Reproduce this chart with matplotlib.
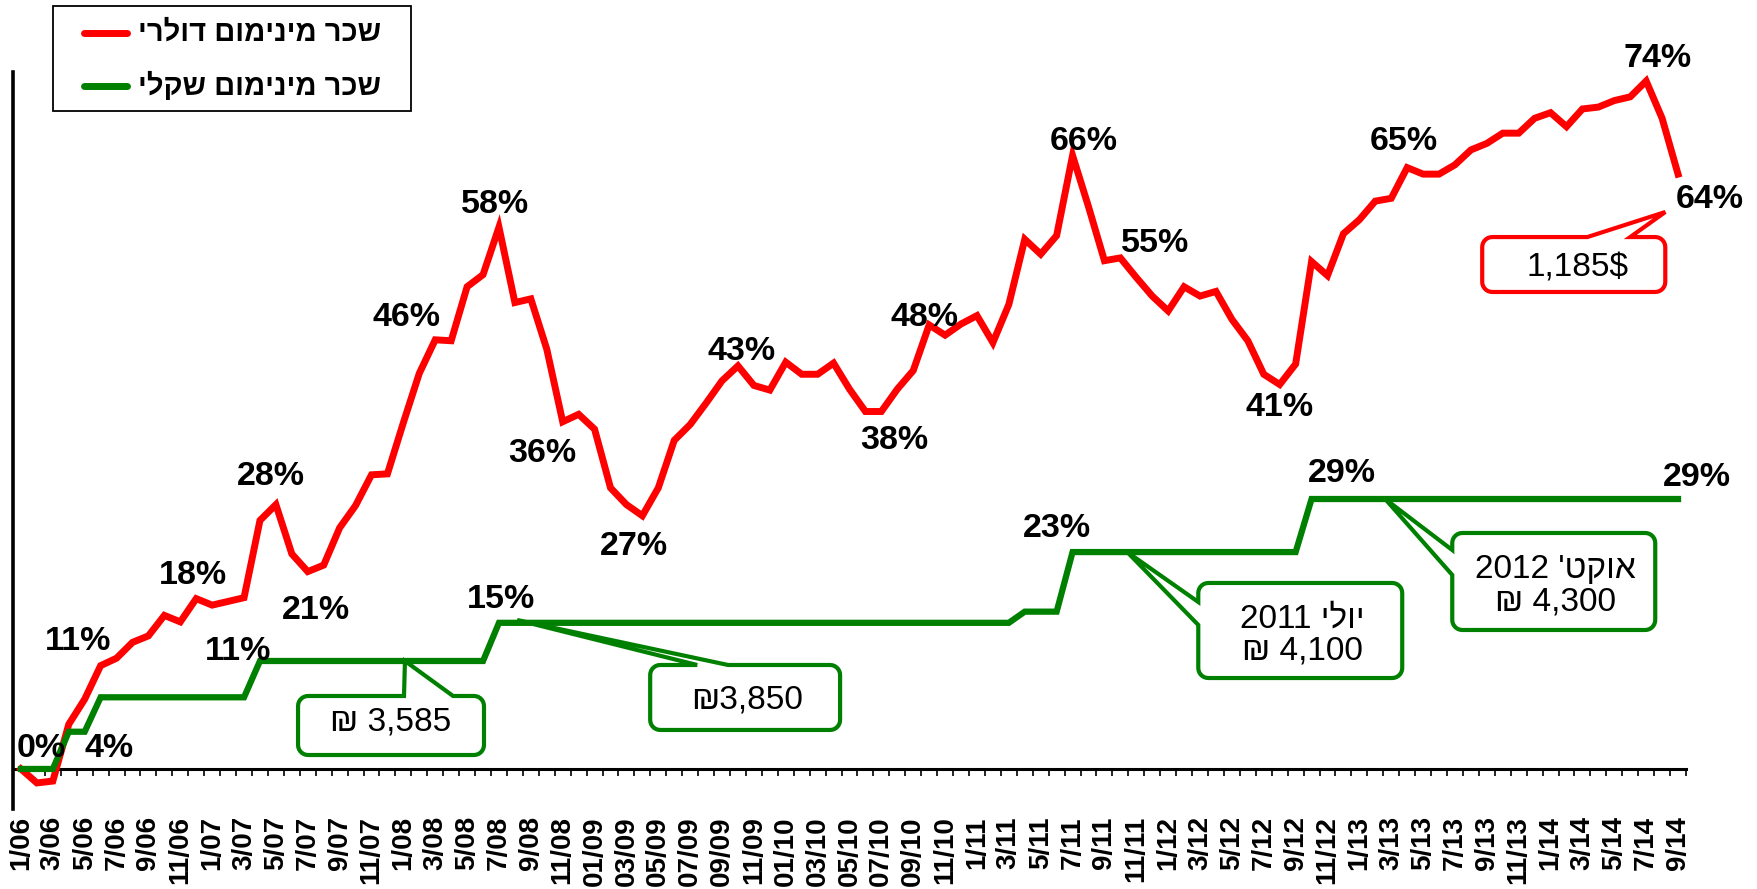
import numpy as np
import matplotlib
matplotlib.use("Agg")
import matplotlib.pyplot as plt
from matplotlib.patches import Polygon, Rectangle
from matplotlib.lines import Line2D

plt.rcParams['font.family'] = ['Liberation Sans', 'DejaVu Sans']

# month labels (every second month, 1/06 .. 9/14)
tick_labels = [
    "1/06", "3/06", "5/06", "7/06", "9/06", "11/06",
    "1/07", "3/07", "5/07", "7/07", "9/07", "11/07",
    "1/08", "3/08", "5/08", "7/08", "9/08", "11/08",
    "01/09", "03/09", "05/09", "07/09", "09/09", "11/09",
    "01/10", "03/10", "05/10", "07/10", "09/10", "11/10",
    "1/11", "3/11", "5/11", "7/11", "9/11", "11/11",
    "1/12", "3/12", "5/12", "7/12", "9/12", "11/12",
    "1/13", "3/13", "5/13", "7/13", "9/13", "11/13",
    "1/14", "3/14", "5/14", "7/14", "9/14",
]

# change vs 1/2006, percent (monthly)
dollar_wage = [
    0.0, -1.5, -1.3, 4.8, 7.5, 11.1, 11.9, 13.6, 14.3, 16.5, 15.8, 18.3,
    17.6, 18.0, 18.4, 26.7, 28.4, 23.1, 21.2, 21.9, 25.9, 28.3, 31.6, 31.7,
    37.2, 42.5, 46.1, 46.0, 51.8, 53.1, 58.2, 50.1, 50.5, 45.1, 37.3, 38.1,
    36.5, 30.2, 28.4, 27.2, 30.2, 35.3, 37.0, 39.3, 41.7, 43.3, 41.2, 40.7,
    43.7, 42.4, 42.4, 43.6, 40.8, 38.4, 38.4, 40.8, 42.8, 47.7, 46.6, 47.8,
    48.7, 45.8, 49.9, 56.9, 55.3, 57.3, 65.9, 60.4, 54.6, 54.9, 52.8, 50.8,
    49.2, 51.8, 50.8, 51.3, 48.3, 46.0, 42.4, 41.3, 43.5, 54.5, 53.0, 57.5,
    59.0, 61.0, 61.3, 64.6, 63.9, 63.9, 64.9, 66.5, 67.2, 68.3, 68.3, 69.9,
    70.5, 69.0, 70.9, 71.1, 71.8, 72.2, 73.9, 69.9, 63.9,
]
shekel_wage = [
    0.0, 0.0, 0.0, 4.0, 4.0, 7.7, 7.7, 7.7, 7.7, 7.7, 7.7, 7.7,
    7.7, 7.7, 7.7, 11.6, 11.6, 11.6, 11.6, 11.6, 11.6, 11.6, 11.6, 11.6,
    11.6, 11.6, 11.6, 11.6, 11.6, 11.6, 15.7, 15.7, 15.7, 15.7, 15.7, 15.7,
    15.7, 15.7, 15.7, 15.7, 15.7, 15.7, 15.7, 15.7, 15.7, 15.7, 15.7, 15.7,
    15.7, 15.7, 15.7, 15.7, 15.7, 15.7, 15.7, 15.7, 15.7, 15.7, 15.7, 15.7,
    15.7, 15.7, 15.7, 16.9, 16.9, 16.9, 23.3, 23.3, 23.3, 23.3, 23.3, 23.3,
    23.3, 23.3, 23.3, 23.3, 23.3, 23.3, 23.3, 23.3, 23.3, 29.0, 29.0, 29.0,
    29.0, 29.0, 29.0, 29.0, 29.0, 29.0, 29.0, 29.0, 29.0, 29.0, 29.0, 29.0,
    29.0, 29.0, 29.0, 29.0, 29.0, 29.0, 29.0, 29.0, 29.0,
]

# data labels: (text, month index, value)
red_labels = [
    ("0%", 1.3, 2.25), ("11%", 3.6, 13.7), ("18%", 10.8, 20.8),
    ("28%", 15.7, 31.4), ("21%", 18.5, 17.0), ("46%", 24.2, 48.5),
    ("58%", 29.75, 60.6), ("36%", 32.7, 33.9), ("27%", 38.5, 23.95),
    ("43%", 45.2, 44.8), ("38%", 54.8, 35.3), ("48%", 56.7, 48.5),
    ("66%", 66.7, 67.4), ("55%", 71.2, 56.5), ("41%", 79.0, 38.8),
    ("65%", 86.8, 67.45), ("74%", 102.7, 76.3), ("64%", 106.0, 61.2),
]
green_labels = [
    ("4%", 5.5, 2.25), ("11%", 13.6, 12.6), ("15%", 30.1, 18.2),
    ("23%", 65.0, 25.8), ("29%", 82.9, 31.7), ("29%", 105.2, 31.3),
]

legend_dollar = "שכר מינימום דולרי"
legend_shekel = "שכר מינימום שקלי"

RED = "#FF0000"
GREEN = "#008000"
W, H = 1758, 889

fig = plt.figure(figsize=(W / 100, H / 100), dpi=100)
ax = fig.add_axes([13 / W, 1 - 809 / H, 1673 / W, 737 / H])

x = np.arange(len(dollar_wage))
ax.plot(x, dollar_wage, color=RED, lw=5, solid_joinstyle="miter", zorder=3)
ax.plot(x, shekel_wage, color=GREEN, lw=4.5, solid_joinstyle="miter", zorder=3)

ax.set_xlim(-0.5, len(x) - 0.5)
ax.set_ylim(-4.3, 74.87)

ax.spines["top"].set_visible(False)
ax.spines["right"].set_visible(False)
ax.spines["left"].set_linewidth(2.6)
ax.spines["bottom"].set_position(("data", 0))
ax.spines["bottom"].set_linewidth(2.2)
ax.set_yticks([])

ax.set_xticks(np.arange(-0.5, len(x), 1))
ax.tick_params(axis="x", which="major", direction="out", length=5, width=1.2,
               labelbottom=False)
ax.set_xticks(np.arange(0, len(x), 2), minor=True)
ax.set_xticklabels(tick_labels, minor=True, rotation=90, fontsize=20,
                   fontweight="bold", va="top", ha="center")
ax.tick_params(axis="x", which="minor", length=0, pad=34)

for t, xi, yi in red_labels + green_labels:
    ax.text(xi, yi, t, ha="center", va="center", fontsize=24.5,
            fontweight="bold", zorder=6, clip_on=False)

# callouts
sx = 1673 / 105.0
sy = 737 / (74.87 + 4.3)


def callout(box, side, base, tip, color, lines, tx, ty):
    x0, x1, y0, y1 = box
    rx, ry = 10 / sx, 10 / sy
    pts = []

    def arc(cx, cy, a0, a1):
        for a in np.radians(np.linspace(a0, a1, 8)):
            pts.append((cx + rx * np.cos(a), cy + ry * np.sin(a)))

    arc(x1 - rx, y0 + ry, -90, 0)
    arc(x1 - rx, y1 - ry, 0, 90)
    if side == "top":
        pts.extend([(base[1], y1), tip, (base[0], y1)])
    arc(x0 + rx, y1 - ry, 90, 180)
    if side == "left":
        pts.extend([(x0, base[1]), tip, (x0, base[0])])
    arc(x0 + rx, y0 + ry, 180, 270)
    ax.add_patch(Polygon(pts, closed=True, facecolor="white", edgecolor=color,
                         lw=3, joinstyle="miter", zorder=5, clip_on=False))
    ax.text(tx, ty, "\n".join(lines), ha="center", va="center", fontsize=24,
            linespacing=1.05, zorder=6, clip_on=False)


callout((17.39, 29.06, 1.50, 7.84), "top", (24.04, 27.12), (24.1, 11.6),
        GREEN, ["₪ 3,585"], 23.2, 5.05)
callout((39.49, 51.41, 4.19, 11.17), "top", (42.44, 44.38), (31.14, 16.0),
        GREEN, ["₪3,850"], 45.6, 7.4)
callout((73.89, 86.69, 9.77, 19.98), "left", (15.47, 17.94), (69.43, 23.3),
        GREEN, ["2011 " + "יולי"[::-1], "₪ 4,100"], 80.4, 14.4)
callout((89.83, 102.57, 14.93, 25.35), "left", (20.84, 23.52), (85.62, 29.0),
        GREEN, ["2012 '" + "אוקט"[::-1], "₪ 4,300"], 96.3, 19.7)
callout((91.71, 103.2, 51.24, 57.14), "top", (98.31, 101.0), (103.2, 59.83),
        RED, ["1,185$"], 97.7, 53.8)

# legend box
fig.add_artist(Rectangle((53 / W, 1 - 111 / H), 358 / W, 105 / H,
                         transform=fig.transFigure, fill=False,
                         edgecolor="black", lw=1.3))
for ypix, col, lab in [(33, RED, legend_dollar), (86, GREEN, legend_shekel)]:
    fig.add_artist(Line2D([84 / W, 127 / W], [1 - ypix / H] * 2, color=col,
                          lw=5, solid_capstyle="round",
                          transform=fig.transFigure))
    fig.text(381 / W, 1 - ypix / H, lab[::-1], ha="right", va="center",
             fontsize=21, fontweight="bold")

fig.savefig("out.png", dpi=100)
